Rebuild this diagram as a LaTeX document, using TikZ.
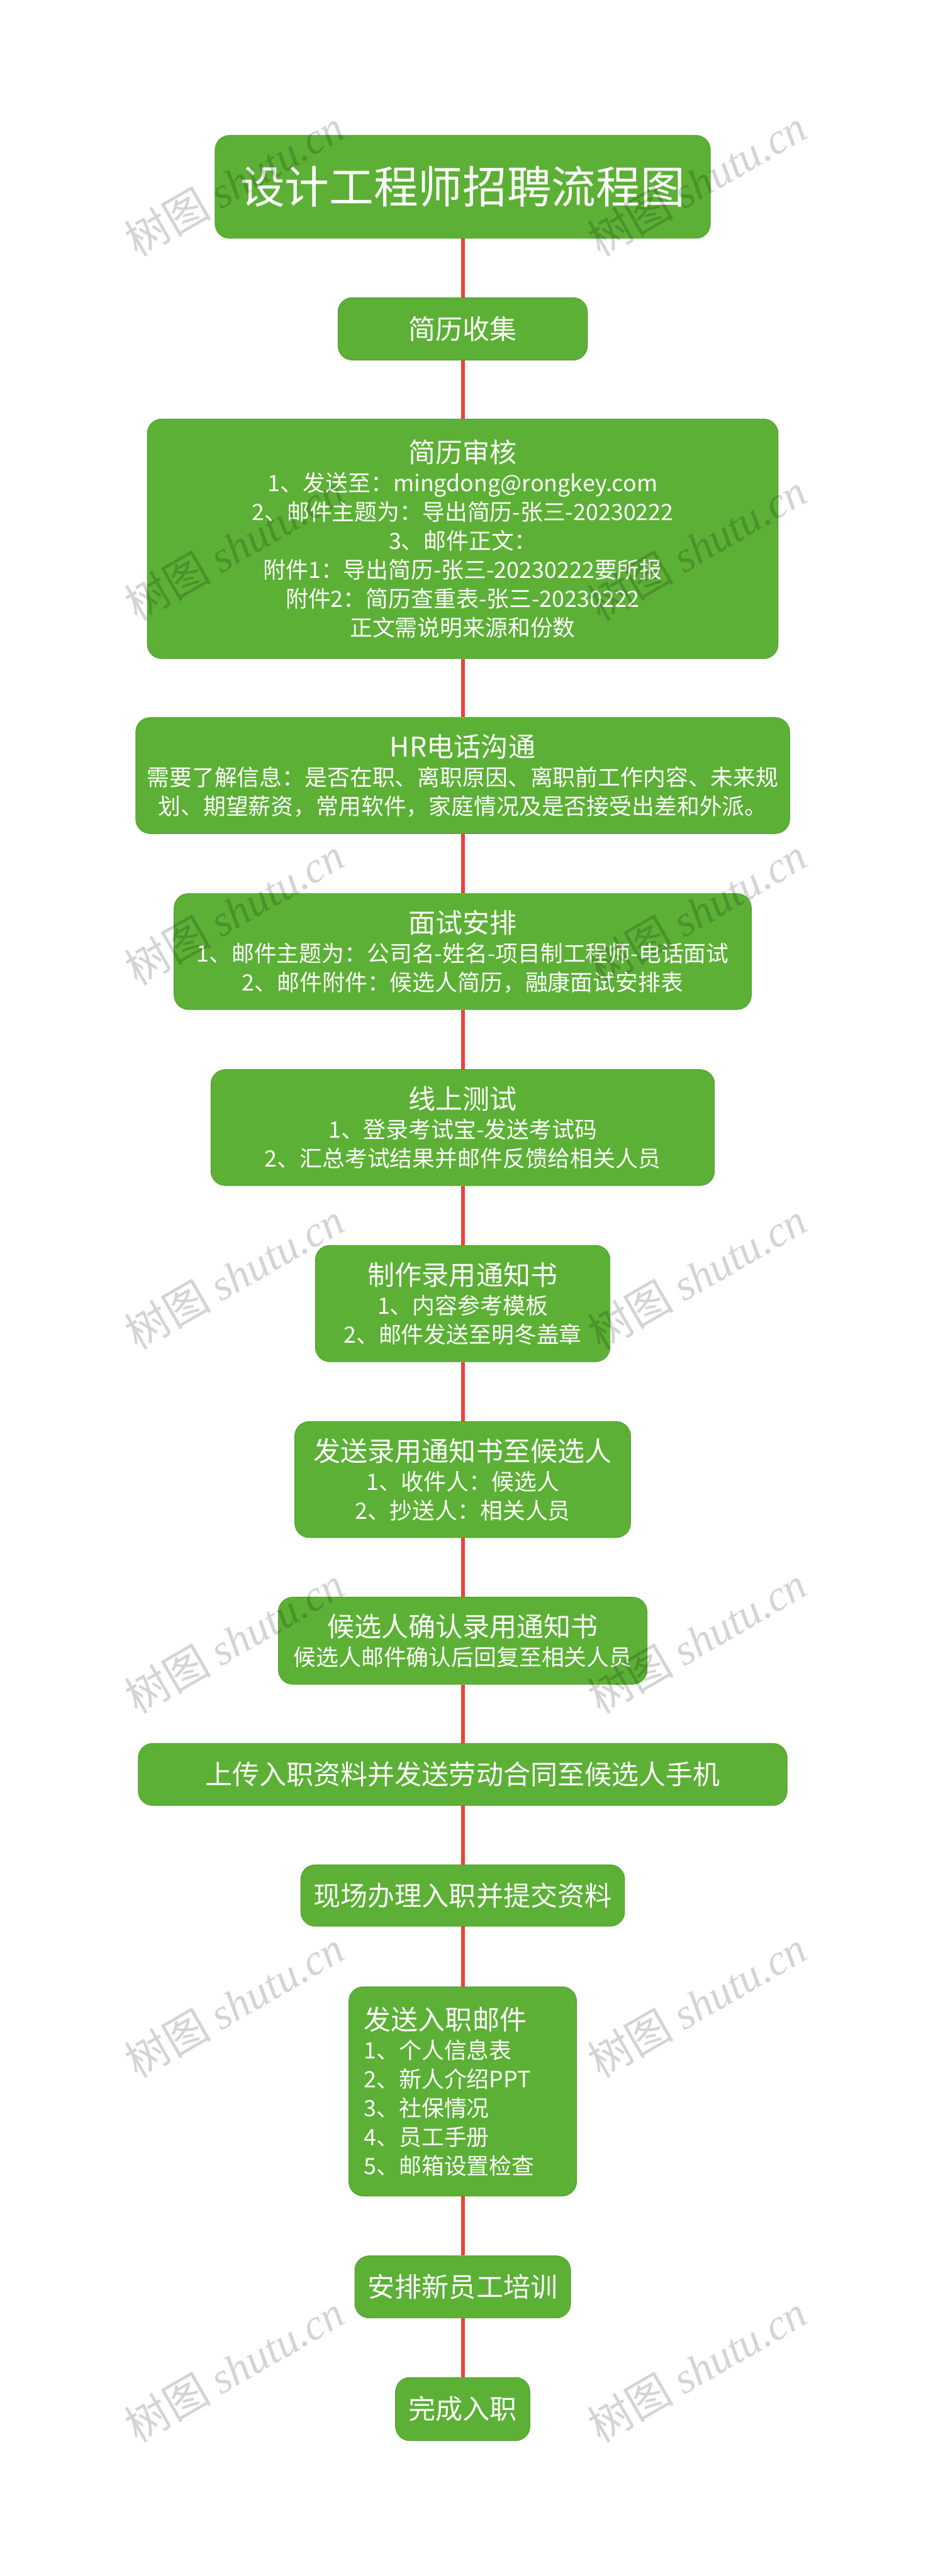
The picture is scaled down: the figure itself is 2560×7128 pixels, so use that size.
\documentclass[tikz,border=0pt]{standalone}
\usepackage{fontspec}
\setmainfont{Noto Sans CJK SC}
\newfontfamily\wmcjk{Noto Sans CJK SC}
\newfontfamily\wmlat{Liberation Serif}
\definecolor{boxgreen}{HTML}{5BB035}
\definecolor{boxedge}{HTML}{4E9E2C}
\definecolor{linkred}{HTML}{EF4136}
\newcommand\hd[1]{{\fontsize{18.75}{20}\selectfont #1}}
\newcommand\wmtext{{\wmcjk 树图} {\wmlat\itshape shutu.cn}}
\begin{document}
\begin{tikzpicture}[x=0.25pt,y=-0.25pt,
  box/.style={draw=boxedge, line width=0.4pt, fill=boxgreen, rounded corners=10pt,
    inner sep=0pt, text=white, align=center, font=\fontsize{15.6}{20}\selectfont},
  sz/.style 2 args={minimum width=#1*0.25pt, minimum height=#2*0.25pt},
  link/.style={draw=linkred, line width=2.6pt},
  wm/.style={rotate=30, text=black, opacity=0.17, inner sep=0pt,
    font=\fontsize{30}{30}\selectfont}]
\useasboundingbox (0,0) rectangle (2560,7128);

\node[box, sz={1370}{285}, font=\fontsize{30.75}{34}\selectfont] (t) at (1280,517) {设计工程师招聘流程图};
\node[box, sz={690}{173}] (b2) at (1280,910) {\hd{简历收集}};
\node[box, sz={1745}{663}] (b3) at (1280,1491) {\hd{简历审核}\\1、发送至：mingdong@rongkey.com\\2、邮件主题为：导出简历-张三-20230222\\3、邮件正文：\\附件1：导出简历-张三-20230222要所报\\附件2：简历查重表-张三-20230222\\正文需说明来源和份数};
\node[box, sz={1809}{321}] (b4) at (1280,2146) {\hd{HR电话沟通}\\需要了解信息：是否在职、离职原因、离职前工作内容、未来规\\划、期望薪资，常用软件，家庭情况及是否接受出差和外派。};
\node[box, sz={1597}{321}] (b5) at (1280,2633) {\hd{面试安排}\\1、邮件主题为：公司名-姓名-项目制工程师-电话面试\\2、邮件附件：候选人简历，融康面试安排表};
\node[box, sz={1393}{321}] (b6) at (1280,3120) {\hd{线上测试}\\1、登录考试宝-发送考试码\\2、汇总考试结果并邮件反馈给相关人员};
\node[box, sz={815}{322}] (b7) at (1280,3607) {\hd{制作录用通知书}\\1、内容参考模板\\2、邮件发送至明冬盖章};
\node[box, sz={929}{321}] (b8) at (1280,4094) {\hd{发送录用通知书至候选人}\\1、收件人：候选人\\2、抄送人：相关人员};
\node[box, sz={1020}{241}] (b9) at (1280,4540) {\hd{候选人确认录用通知书}\\候选人邮件确认后回复至相关人员};
\node[box, sz={1795}{172}] (b10) at (1280,4910) {\hd{上传入职资料并发送劳动合同至候选人手机}};
\node[box, sz={896}{170}] (b11) at (1280,5245) {\hd{现场办理入职并提交资料}};
\node[box, sz={630}{579}, text width=136.5pt, align=left] (b12) at (1280,5787) {\hd{发送入职邮件}\\1、个人信息表\\2、新人介绍PPT\\3、社保情况\\4、员工手册\\5、邮箱设置检查};
\node[box, sz={597}{172}] (b13) at (1280,6328) {\hd{安排新员工培训}};
\node[box, sz={372}{175}] (b14) at (1280,6666) {\hd{完成入职}};

\draw[link] (t) -- (b2);
\draw[link] (b2) -- (b3);
\draw[link] (b3) -- (b4);
\draw[link] (b4) -- (b5);
\draw[link] (b5) -- (b6);
\draw[link] (b6) -- (b7);
\draw[link] (b7) -- (b8);
\draw[link] (b8) -- (b9);
\draw[link] (b9) -- (b10);
\draw[link] (b10) -- (b11);
\draw[link] (b11) -- (b12);
\draw[link] (b12) -- (b13);
\draw[link] (b13) -- (b14);

\foreach \r [count=\i] in {506,1514,2522,3530,4538,5546,6554} {
  \node[wm] (wl\i) at (648,\r) {\wmtext};
  \node[wm] (wr\i) at (1928,\r) {\wmtext};
}
\end{tikzpicture}
\end{document}
